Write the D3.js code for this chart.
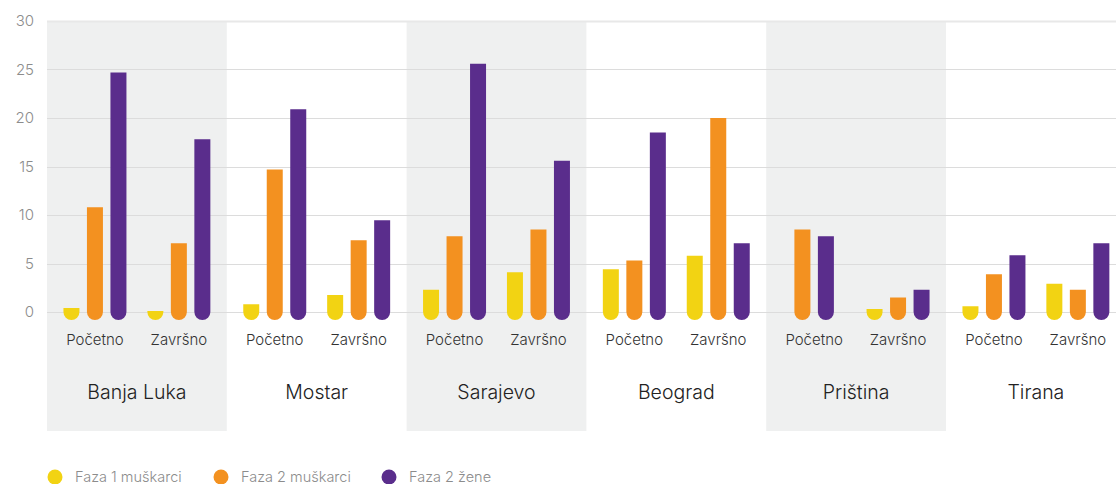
<!DOCTYPE html>
<html>
<head>
<meta charset="utf-8">
<script src="https://cdn.jsdelivr.net/npm/d3@7"></script>
<style>
  body { margin: 0; background: #fff; }
  text { font-family: Inter, "Noto Sans", sans-serif; }
</style>
</head>
<body>
<svg id="chart" width="1116" height="484"></svg>
<script>
//cities and phases
let cities = ["Banja Luka", "Mostar", "Sarajevo", "Beograd", "Priština", "Tirana"];
let phases = ["Početno", "Završno"];
let seriesNames = ["Faza 1 muškarci", "Faza 2 muškarci", "Faza 2 žene"];
let seriesColors = ["#f2d313", "#f39120", "#5a2d8c"];
let yTicks = [0, 5, 10, 15, 20, 25, 30];

//values per city: [Početno, Završno], null = no bar
let faza1Muskarci = [[0.4, 0.1], [0.8, 1.75], [2.3, 4.1], [4.4, 5.8], [null, 0.3], [0.6, 2.9]];
let faza2Muskarci = [[10.8, 7.1], [14.7, 7.4], [7.8, 8.5], [5.3, 20.0], [8.5, 1.5], [3.9, 2.3]];
let faza2Zene = [[24.7, 17.8], [20.9, 9.45], [25.6, 15.6], [18.5, 7.1], [7.8, 2.3], [5.85, 7.1]];

let seriesValues = [faza1Muskarci, faza2Muskarci, faza2Zene];

let svg = d3.select("#chart");

let plotLeft = 47, plotTop = 21, zeroY = 312;
let bandW = 179.8;

//x scales
let x = d3.scaleBand()
    .domain(cities)
    .range([plotLeft, plotLeft + bandW * cities.length])
    .padding(0);

let xPhase = d3.scaleBand()
    .domain(phases)
    .range([0, x.bandwidth()])
    .paddingInner(0)
    .paddingOuter(1 / 14);

//y scale
let y = d3.scaleLinear()
    .domain([0, 30])
    .range([zeroY, plotTop]);

//shaded bands
svg.append("g").selectAll("rect")
    .data(cities.filter((d, i) => i % 2 === 0))
    .enter()
    .append("rect")
    .attr("x", d => x(d))
    .attr("y", plotTop)
    .attr("width", x.bandwidth())
    .attr("height", 431 - plotTop)
    .attr("fill", "#eff0f0");

//gridlines
svg.append("g").selectAll("line")
    .data(yTicks)
    .enter()
    .append("line")
    .attr("x1", plotLeft)
    .attr("x2", 1116)
    .attr("y1", d => Math.round(y(d)) + 0.5)
    .attr("y2", d => Math.round(y(d)) + 0.5)
    .attr("stroke", d => d === 30 ? "#e8e8e8" : "#dcdcdc")
    .attr("stroke-width", d => d === 30 ? 2 : 1);

//y tick labels
svg.append("g").selectAll("text")
    .data(yTicks)
    .enter()
    .append("text")
    .attr("x", 34)
    .attr("y", d => y(d))
    .attr("dy", "0.35em")
    .style("text-anchor", "end")
    .style("font-size", "15px")
    .style("font-weight", 300)
    .style("fill", "#8c8c8c")
    .text(d => d);

//build bar list, leaving out missing values and centering what remains
let bars = [];
let barW = 16, barStep = 23.5;
cities.forEach(function(c, ci) {
    phases.forEach(function(p, pi) {
        let present = [];
        seriesValues.forEach(function(s, si) {
            if (s[ci][pi] !== null) present.push({series: si, value: s[ci][pi]});
        });
        let cx = x(c) + xPhase(p) + xPhase.bandwidth() / 2;
        present.forEach(function(d, k) {
            d.cx = cx + (k - (present.length - 1) / 2) * barStep;
            bars.push(d);
        });
    });
});

//bar with flat top and round bottom below zero
function barPath(d) {
    let r = barW / 2;
    let x0 = d.cx - r, x1 = d.cx + r;
    let yt = y(d.value), yb = y(0);
    return `M${x0},${yt}L${x1},${yt}L${x1},${yb}A${r},${r} 0 0 1 ${x0},${yb}Z`;
}

svg.append("g").selectAll("path")
    .data(bars)
    .enter()
    .append("path")
    .attr("d", barPath)
    .attr("fill", d => seriesColors[d.series]);

//phase labels
let phaseLabels = [];
cities.forEach(c => phases.forEach(p => phaseLabels.push({c: c, p: p})));
svg.append("g").selectAll("text")
    .data(phaseLabels)
    .enter()
    .append("text")
    .attr("x", d => x(d.c) + xPhase(d.p) + xPhase.bandwidth() / 2)
    .attr("y", 345)
    .style("text-anchor", "middle")
    .style("font-size", "15px")
    .style("font-weight", 300)
    .style("fill", "#333")
    .text(d => d.p);

//city labels
svg.append("g").selectAll("text")
    .data(cities)
    .enter()
    .append("text")
    .attr("x", d => x(d) + x.bandwidth() / 2)
    .attr("y", 399)
    .style("text-anchor", "middle")
    .style("font-size", "19.5px")
    .style("font-weight", 300)
    .style("fill", "#222")
    .text(d => d);

//legend
let legendX = [55, 221, 389];
let legend = svg.append("g").selectAll("g")
    .data(seriesNames)
    .enter()
    .append("g")
    .attr("transform", (d, i) => `translate(${legendX[i]},477)`);

legend.append("circle")
    .attr("r", 7.5)
    .attr("fill", (d, i) => seriesColors[i]);

legend.append("text")
    .attr("x", 20)
    .attr("dy", "0.35em")
    .style("font-size", "14.5px")
    .style("font-weight", 300)
    .style("fill", "#8c8c8c")
    .text(d => d);
</script>
</body>
</html>
